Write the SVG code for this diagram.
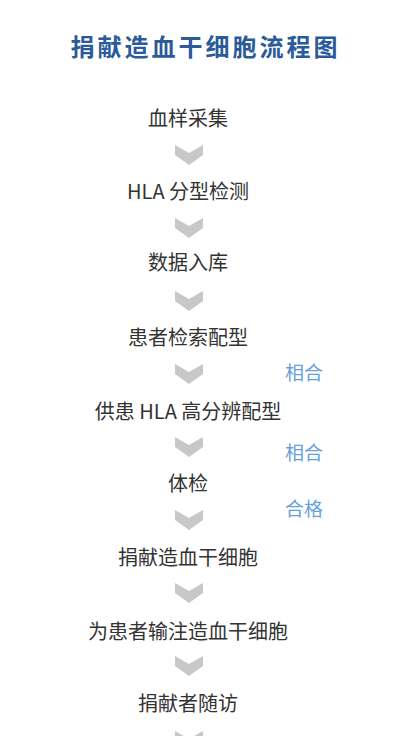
<svg xmlns="http://www.w3.org/2000/svg" xmlns:xlink="http://www.w3.org/1999/xlink" width="400" height="736" viewBox="0 0 400 736">
  <style>
    .title { font-family: "Noto Sans CJK SC", "Noto Sans", sans-serif; font-size: 24px; font-weight: 700; fill: #2a5a9a; letter-spacing: 3px; }
    .node { font-family: "Noto Sans CJK SC", "Liberation Sans", sans-serif; font-size: 20px; fill: #333333; text-anchor: middle; }
    .label { font-family: "Noto Sans CJK SC", "Liberation Sans", sans-serif; font-size: 19px; fill: #6a9fd8; text-anchor: middle; }
    .chev { fill: #c8c8c8; }
  </style>
  <defs>
    <path id="chev" d="M175,0 L189,8 L203,0 L203,10 L189,20 L175,10 Z"/>
  </defs>
  <rect width="400" height="736" fill="#ffffff"/>
  <g id="title">
    <text class="title" x="205.5" y="56" text-anchor="middle">捐献造血干细胞流程图</text>
  </g>
  <g id="connectors" class="chev">
    <use xlink:href="#chev" y="145"/>
    <use xlink:href="#chev" y="218"/>
    <use xlink:href="#chev" y="291"/>
    <use xlink:href="#chev" y="364"/>
    <use xlink:href="#chev" y="437"/>
    <use xlink:href="#chev" y="510"/>
    <use xlink:href="#chev" y="583"/>
    <use xlink:href="#chev" y="656"/>
    <use xlink:href="#chev" y="731"/>
  </g>
  <g id="n1"><text class="node" x="188" y="126">血样采集</text></g>
  <g id="n2"><text class="node" x="188" y="199">HLA 分型检测</text></g>
  <g id="n3"><text class="node" x="188" y="270">数据入库</text></g>
  <g id="n4"><text class="node" x="188" y="344.5">患者检索配型</text></g>
  <g id="n5"><text class="node" x="188" y="418.5">供患 HLA 高分辨配型</text></g>
  <g id="n6"><text class="node" x="188" y="491">体检</text></g>
  <g id="n7"><text class="node" x="188" y="564.5">捐献造血干细胞</text></g>
  <g id="n8"><text class="node" x="188" y="638.5">为患者输注造血干细胞</text></g>
  <g id="n9"><text class="node" x="188" y="710.5">捐献者随访</text></g>
  <g id="labels">
    <text class="label" x="304" y="380">相合</text>
    <text class="label" x="304" y="460">相合</text>
    <text class="label" x="304" y="515.5">合格</text>
  </g>
</svg>
